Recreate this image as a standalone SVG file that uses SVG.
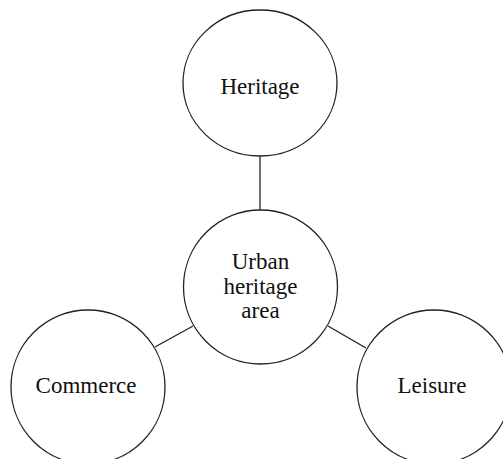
<svg xmlns="http://www.w3.org/2000/svg" width="503" height="459" viewBox="0 0 503 459">
<style>
.node{fill:#fff;stroke:#222;stroke-width:1.3}
.lbl{font-family:"Liberation Serif","Times New Roman",serif;font-size:23px;fill:#111;text-anchor:middle}
.conn{stroke:#222;stroke-width:1.3;fill:none}
</style>
<rect width="503" height="459" fill="#fff"/>
<g id="connectors">
<line class="conn" x1="260" y1="155" x2="260" y2="210"/>
<line class="conn" x1="155" y1="347" x2="193" y2="326"/>
<line class="conn" x1="328" y1="326" x2="366" y2="348"/>
</g>
<g id="heritage">
<ellipse class="node" cx="260" cy="83" rx="77" ry="73"/>
<text class="lbl" x="260" y="94">Heritage</text>
</g>
<g id="urban">
<circle class="node" cx="260.5" cy="287" r="77"/>
<text class="lbl" x="260.5" y="269">Urban</text>
<text class="lbl" x="260.5" y="294">heritage</text>
<text class="lbl" x="260.5" y="318">area</text>
</g>
<g id="commerce">
<circle class="node" cx="88" cy="387" r="77"/>
<text class="lbl" x="86" y="393">Commerce</text>
</g>
<g id="leisure">
<circle class="node" cx="434" cy="387" r="77"/>
<text class="lbl" x="432" y="393">Leisure</text>
</g>
</svg>
